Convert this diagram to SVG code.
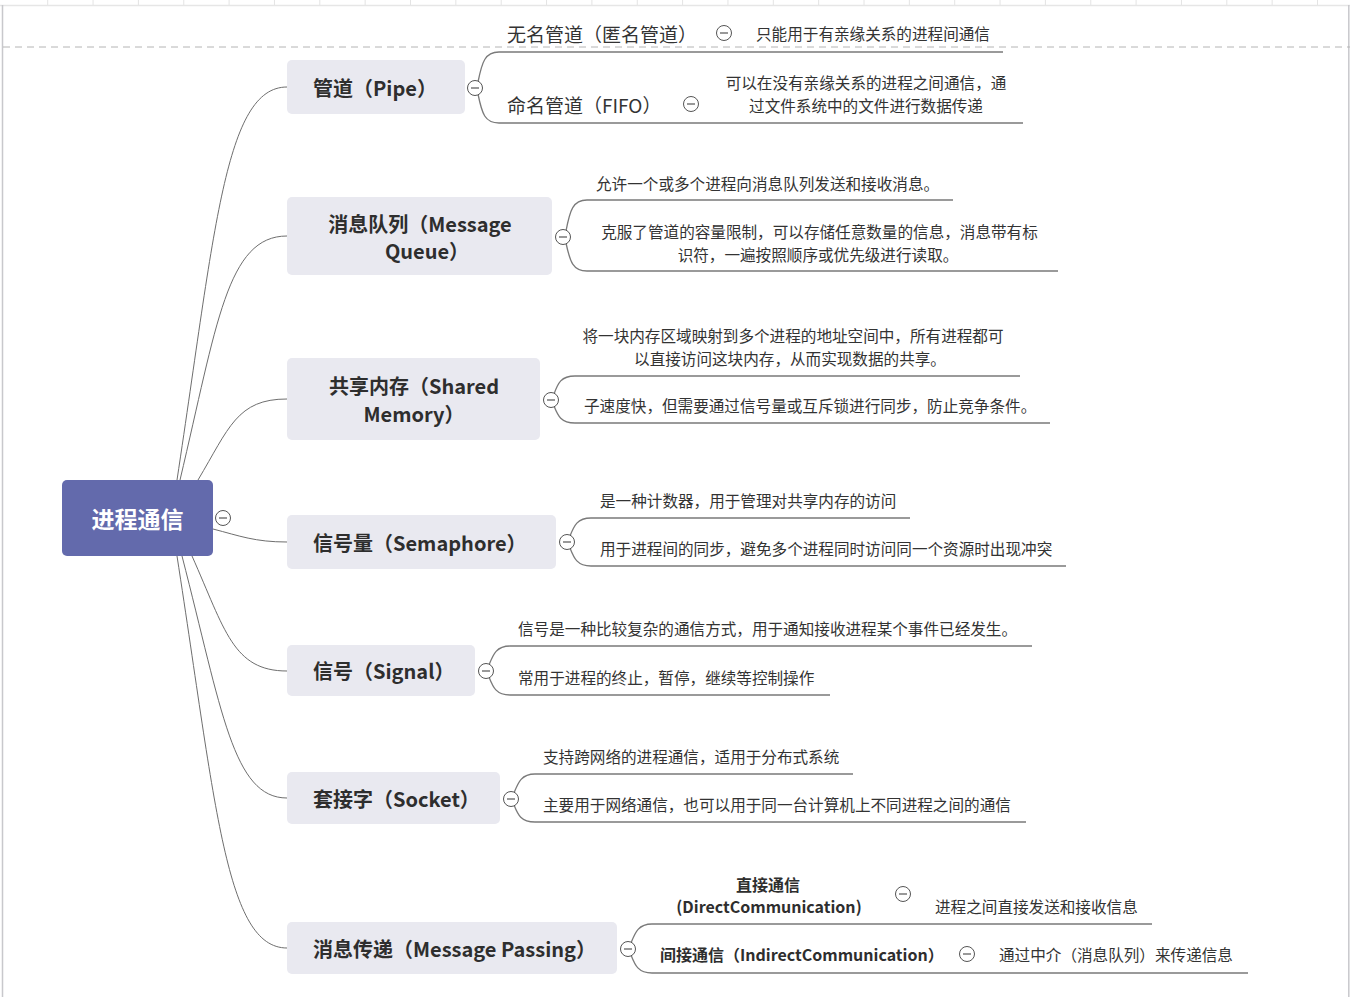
<svg xmlns="http://www.w3.org/2000/svg" width="1350" height="997" viewBox="0 0 1350 997">
<style>
text{font-family:"Noto Sans CJK SC","Noto Sans",sans-serif;fill:#333;dominant-baseline:central}
.node{fill:#e9e9f0}
.nt{font-size:20px;font-weight:bold;fill:#2e2e2e;text-anchor:middle}
.ns{font-size:20px;font-weight:bold;fill:#2e2e2e}
.leaf{font-size:15.6px}
.mid{text-anchor:middle}
.sub{font-size:19px;font-weight:normal}
.bsub{font-size:16px;font-weight:bold;fill:#2e2e2e}
.conn{fill:none;stroke:#6e6e6e;stroke-width:1}
.brk{fill:none;stroke:#7a7a7a;stroke-width:1.3}
.cc{fill:#fff;stroke:#555;stroke-width:1}
.cm{stroke:#555;stroke-width:1.2}
</style>
<defs>
<g id="col"><circle class="cc" r="7.5"/><line class="cm" x1="-4" y1="0" x2="4" y2="0"/></g>
</defs>
<rect width="1350" height="997" fill="#fff"/>
<g id="frame">
<line x1="0" y1="5.5" x2="1350" y2="5.5" stroke="#e6e6e6" stroke-width="1.5"/>
<path d="M47.7,0V5M93.05,0V5M138.4,0V5M183.75,0V5M229.1,0V5M274.45,0V5M319.8,0V5M365.15,0V5M410.5,0V5M455.85,0V5M501.2,0V5M546.55,0V5M591.9,0V5M637.25,0V5M682.6,0V5M727.95,0V5M773.3,0V5M818.65,0V5M864,0V5M909.35,0V5M954.7,0V5M1000.05,0V5M1045.4,0V5M1090.75,0V5M1136.1,0V5M1181.45,0V5M1226.8,0V5M1272.15,0V5M1317.5,0V5" stroke="#e4e4e4" stroke-width="1"/>
<line x1="2.5" y1="5" x2="2.5" y2="997" stroke="#c8c8cc" stroke-width="1.5"/>
<line x1="1348.8" y1="5" x2="1348.8" y2="997" stroke="#c8c8cc" stroke-width="1.5"/>
<line x1="3" y1="47" x2="1350" y2="47" stroke="#b4b4b4" stroke-width="1" stroke-dasharray="7 5"/>
</g>
<g id="connectors">
<path class="conn" d="M177,480 C215,230 225,87 287,87"/>
<path class="conn" d="M180,480 C217,324 227,236 287,236"/>
<path class="conn" d="M198,480 C229,428 237,399 287,399"/>
<path class="conn" d="M213,529 C240,536 255,542 287,542"/>
<path class="conn" d="M192,556 C225,630 233,671 287,671"/>
<path class="conn" d="M182,556 C222,711 233,798 287,798"/>
<path class="conn" d="M177,556 C216,807 226,948 287,948"/>
<path class="brk" d="M478,82 C482,62 485,52 499,52 L1003,52"/>
<path class="brk" d="M478,94 C482,114 485,123 499,123 L1023,123"/>
<path class="brk" d="M566,231 C570,210 573,200 587,200 L953,200"/>
<path class="brk" d="M566,243 C570,262 573,271 587,271 L1058,271"/>
<path class="brk" d="M554,394 C558,383 561,376 575,376 L1020,376"/>
<path class="brk" d="M554,406 C558,416 561,423 575,423 L1050,423"/>
<path class="brk" d="M570,536 C574,526 577,518 591,518 L910,518"/>
<path class="brk" d="M570,548 C574,558 577,566 591,566 L1066,566"/>
<path class="brk" d="M489,665 C493,655 496,646 510,646 L1032,646"/>
<path class="brk" d="M489,677 C493,687 496,695 510,695 L830,695"/>
<path class="brk" d="M514,793 C518,783 521,774 535,774 L853,774"/>
<path class="brk" d="M514,805 C518,815 521,822 535,822 L1026,822"/>
<path class="brk" d="M631,943 C635,933 638,924 652,924 L1152,924"/>
<path class="brk" d="M631,955 C635,965 638,973 652,973 L1248,973"/>
</g>
<g id="root">
<rect x="62" y="480" width="151" height="76" rx="5" fill="#636aac"/>
<text x="137.5" y="518" style="font-size:23px;font-weight:bold;fill:#fff;text-anchor:middle">进程通信</text>
<use href="#col" x="223" y="518"/>
</g>
<g id="pipe">
<rect class="node" x="287" y="60" width="178" height="54" rx="5"/>
<text class="ns" x="313" y="87">管道（Pipe）</text>
<use href="#col" x="475" y="88"/>
</g>
<g id="pipe-anon">
<text class="sub" x="507" y="33">无名管道（匿名管道）</text>
<use href="#col" x="724" y="33"/>
<text class="leaf" x="756" y="33">只能用于有亲缘关系的进程间通信</text>
</g>
<g id="pipe-fifo">
<text class="sub" x="507" y="104">命名管道（FIFO）</text>
<use href="#col" x="691" y="104"/>
<text class="leaf mid" x="866" y="82">可以在没有亲缘关系的进程之间通信，通</text>
<text class="leaf mid" x="866" y="105">过文件系统中的文件进行数据传递</text>
</g>
<g id="mq">
<rect class="node" x="287" y="197" width="265" height="78" rx="5"/>
<text class="nt" x="420" y="223">消息队列（Message</text>
<text class="nt" x="427" y="250">Queue）</text>
<use href="#col" x="563" y="237"/>
</g>
<g id="mq-1"><text class="leaf" x="596" y="183">允许一个或多个进程向消息队列发送和接收消息。</text></g>
<g id="mq-2">
<text class="leaf mid" x="819.5" y="231">克服了管道的容量限制，可以存储任意数量的信息，消息带有标</text>
<text class="leaf mid" x="818" y="254">识符，一遍按照顺序或优先级进行读取。</text>
</g>
<g id="shm">
<rect class="node" x="287" y="358" width="253" height="82" rx="5"/>
<text class="nt" x="414" y="385">共享内存（Shared</text>
<text class="nt" x="414" y="413">Memory）</text>
<use href="#col" x="551" y="400"/>
</g>
<g id="shm-1">
<text class="leaf mid" x="793" y="335">将一块内存区域映射到多个进程的地址空间中，所有进程都可</text>
<text class="leaf mid" x="790" y="358">以直接访问这块内存，从而实现数据的共享。</text>
</g>
<g id="shm-2"><text class="leaf" x="584" y="405">子速度快，但需要通过信号量或互斥锁进行同步，防止竞争条件。</text></g>
<g id="sem">
<rect class="node" x="287" y="515" width="269" height="54" rx="5"/>
<text class="ns" x="313" y="542">信号量（Semaphore）</text>
<use href="#col" x="567" y="542"/>
</g>
<g id="sem-1"><text class="leaf" x="600" y="500">是一种计数器，用于管理对共享内存的访问</text></g>
<g id="sem-2"><text class="leaf" x="600" y="548">用于进程间的同步，避免多个进程同时访问同一个资源时出现冲突</text></g>
<g id="sig">
<rect class="node" x="287" y="645" width="188" height="51" rx="5"/>
<text class="ns" x="313" y="670">信号（Signal）</text>
<use href="#col" x="486" y="671"/>
</g>
<g id="sig-1"><text class="leaf" x="518" y="628">信号是一种比较复杂的通信方式，用于通知接收进程某个事件已经发生。</text></g>
<g id="sig-2"><text class="leaf" x="518" y="677">常用于进程的终止，暂停，继续等控制操作</text></g>
<g id="sock">
<rect class="node" x="287" y="772" width="213" height="52" rx="5"/>
<text class="ns" x="313" y="798">套接字（Socket）</text>
<use href="#col" x="511" y="799"/>
</g>
<g id="sock-1"><text class="leaf" x="543" y="756">支持跨网络的进程通信，适用于分布式系统</text></g>
<g id="sock-2"><text class="leaf" x="543" y="804">主要用于网络通信，也可以用于同一台计算机上不同进程之间的通信</text></g>
<g id="mp">
<rect class="node" x="287" y="922" width="330" height="52" rx="5"/>
<text class="ns" x="313" y="948">消息传递（Message Passing）</text>
<use href="#col" x="628" y="949"/>
</g>
<g id="mp-direct">
<text class="bsub mid" x="768" y="884">直接通信</text>
<text class="bsub mid" x="769" y="906">(DirectCommunication)</text>
<use href="#col" x="903" y="894"/>
<text class="leaf" x="935" y="906">进程之间直接发送和接收信息</text>
</g>
<g id="mp-indirect">
<text class="bsub" x="660" y="954">间接通信（IndirectCommunication）</text>
<use href="#col" x="967" y="954"/>
<text class="leaf" x="999" y="954">通过中介（消息队列）来传递信息</text>
</g>
</svg>
